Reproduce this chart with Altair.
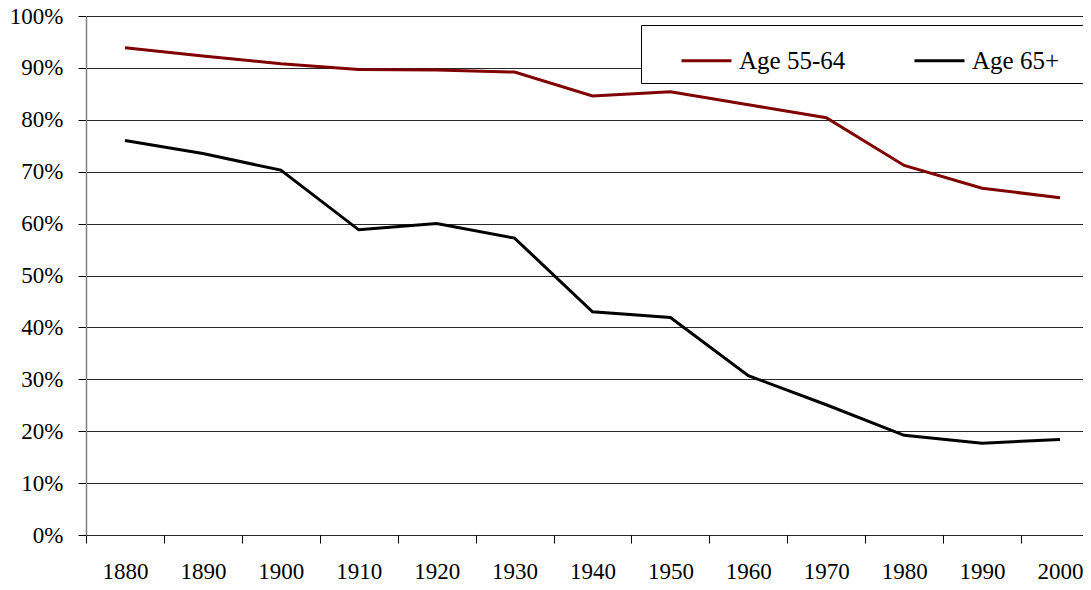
import altair as alt
import pandas as pd

years = [1880, 1890, 1900, 1910, 1920, 1930, 1940, 1950, 1960, 1970, 1980, 1990, 2000]
age_55_64 = [93.9, 92.3, 90.8, 89.7, 89.6, 89.2, 84.6, 85.4, 82.9, 80.4, 71.2, 66.8, 65.0]
age_65_plus = [76.0, 73.5, 70.3, 58.8, 60.0, 57.2, 43.0, 41.9, 30.7, 25.1, 19.2, 17.7, 18.4]
series = ["Age 55-64", "Age 65+"]
y_ticks = [0, 10, 20, 30, 40, 50, 60, 70, 80, 90, 100]

df = pd.concat([
    pd.DataFrame({"Year": years, "Rate": age_55_64, "Group": series[0]}),
    pd.DataFrame({"Year": years, "Rate": age_65_plus, "Group": series[1]}),
])

font = "'Times New Roman', 'Liberation Serif', serif"
# the legend frame runs past the right edge in the original: pad the last label
# with blank glyphs (plain spaces get trimmed by vega)
pad_label = "Age 65+" + "\u2800" * 8

chart = alt.Chart(df).mark_line(strokeWidth=3).encode(
    x=alt.X("Year:O", bandPosition=0.5,
            scale=alt.Scale(type="band", paddingInner=0, paddingOuter=0, range=[0, 1013]),
            axis=alt.Axis(title=None, labelAngle=0, tickBand="extent", domain=False,
                          tickColor="#000000", tickSize=8, labelPadding=17,
                          labelFont=font, labelFontSize=23, labelColor="#000000")),
    y=alt.Y("Rate:Q", scale=alt.Scale(domain=[0, 100], nice=False),
            axis=alt.Axis(title=None, values=y_ticks, labelExpr="datum.value + '%'",
                          grid=True, gridColor="#000000", gridWidth=1, gridOpacity=0.85,
                          domainColor="#808080", domainWidth=1.5, tickColor="#000000", tickSize=8,
                          labelPadding=15, labelFont=font, labelFontSize=23, labelColor="#000000")),
    color=alt.Color("Group:N", scale=alt.Scale(domain=series, range=["#800000", "#000000"]),
                    legend=alt.Legend(title=None, orient="none", legendX=555, legendY=9,
                                      direction="horizontal", symbolType="stroke", symbolSize=2500,
                                      symbolStrokeWidth=3, symbolOffset=30, padding=9,
                                      strokeColor="#000000", fillColor="#ffffff", columnPadding=37,
                                      labelExpr=f"datum.label == 'Age 65+' ? '{pad_label}' : datum.label",
                                      labelLimit=400,
                                      labelFont=font, labelFontSize=25, labelColor="#000000",
                                      labelOffset=6)),
).properties(
    width=997,
    height=519,
    padding={"left": 78, "top": 8, "right": 0, "bottom": 47},
    autosize=alt.AutoSizeParams(type="none"),
).configure_view(stroke=None)

chart.save("out.html", embed_options={"renderer": "svg", "actions": False})
